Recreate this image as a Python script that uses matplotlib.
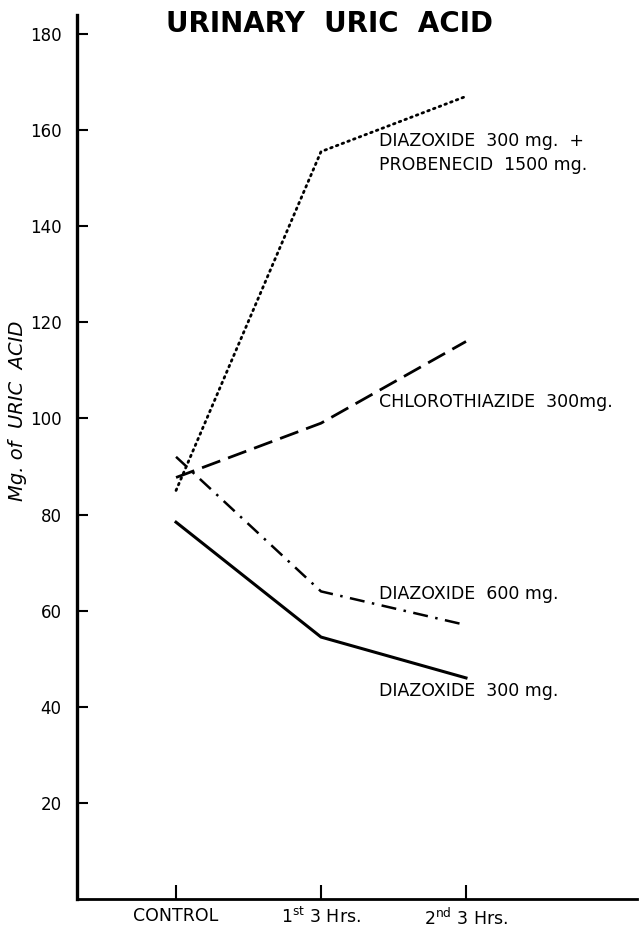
import numpy as np
import matplotlib
matplotlib.use('Agg')
import matplotlib.pyplot as plt

# Urinary uric acid (mg) per collection period
periods = ['CONTROL', '1$^{\\mathrm{st}}$ 3 Hrs.', '2$^{\\mathrm{nd}}$ 3 Hrs.']
diaz_probenecid = [85, 155.5, 167]
chlorothiazide = [87.7, 99, 116]
diaz_600 = [92, 64, 57]
diaz_300 = [78.4, 54.5, 46]

labels = ['DIAZOXIDE  300 mg.  +\nPROBENECID  1500 mg.',
          'CHLOROTHIAZIDE  300mg.',
          'DIAZOXIDE  600 mg.',
          'DIAZOXIDE  300 mg.']
label_y = [155.2, 103.5, 63.4, 43.2]

x = np.arange(len(periods))

fig = plt.figure(figsize=(6.39, 9.27), dpi=100)
ax = fig.add_axes([0.1205, 0.0302, 0.8765, 0.954])

ax.plot(x, diaz_probenecid, color='black', lw=2.0, linestyle=(0, (0.6, 1.6)),
        dash_capstyle='round')
ax.plot(x, chlorothiazide, color='black', lw=2.0, linestyle=(0, (7, 3)))
ax.plot(x, diaz_600, color='black', lw=1.8, linestyle=(0, (6, 3, 1, 3)))
ax.plot(x, diaz_300, color='black', lw=2.2, linestyle='-')

for s, yy in zip(labels, label_y):
    ax.text(1.40, yy, s, fontsize=12.5, va='center', ha='left', linespacing=1.4)

ax.set_xlim(-0.683, 3.18)
ax.set_ylim(0, 184)
ax.set_yticks(np.arange(20, 181, 20))
ax.set_xticks(x)
ax.set_xticklabels(periods, fontsize=12.5)
ax.tick_params(axis='y', direction='in', length=8, width=1.5, labelsize=12, pad=11)
ax.tick_params(axis='x', direction='in', length=10, width=1.5, pad=6)

for side in ['top', 'right']:
    ax.spines[side].set_visible(False)
ax.spines['left'].set_linewidth(2.4)
ax.spines['bottom'].set_linewidth(2.0)

fig.text(0.516, 0.974, 'URINARY  URIC  ACID', fontsize=20, fontweight='heavy',
         ha='center', va='center')
fig.text(0.027, 0.557, 'Mg. of  URIC  ACID', fontsize=14, style='italic',
         rotation=90, ha='center', va='center')

fig.savefig('out.png', dpi=100)
